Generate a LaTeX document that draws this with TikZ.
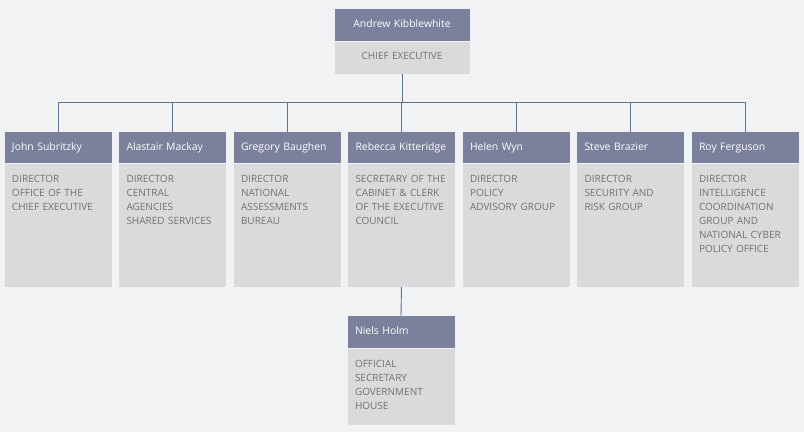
\documentclass[tikz,border=0pt]{standalone}
\usepackage{fontspec}
\setmainfont{Open Sans}
\usepackage{tikz}
\usetikzlibrary{positioning}
\definecolor{pagegrey}{HTML}{F1F2F4}
\definecolor{headblue}{HTML}{7B809C}
\definecolor{bodygrey}{HTML}{D9DADC}
\definecolor{linkblue}{HTML}{5F7290}
\definecolor{textgrey}{HTML}{707275}

\begin{document}
\begin{tikzpicture}[x=1pt,y=-1pt,
		head/.style={fill=headblue, text=white, anchor=north, minimum width=106pt, minimum height=31pt,
			text width=92pt, inner xsep=7.5pt, inner ysep=0pt, text height=8pt, text depth=2.5pt,
			align=left, font=\fontsize{10.4}{14}\selectfont},
		body/.style={fill=bodygrey, text=textgrey, text width=92pt, inner xsep=7.5pt, inner ysep=10pt,
			text height=9pt, text depth=94pt, align=left, font=\fontsize{10}{14}\selectfont},
		link/.style={linkblue, line width=0.9pt}]
		\fill[pagegrey] (0,0) rectangle (804,432);
		\useasboundingbox (0,0) rectangle (804,432);
		\node[head, minimum width=134pt, minimum height=32pt, text width=120pt, align=center] (kibblewhite) at (402,9) {Andrew Kibblewhite};
		\node[body, below=0pt of kibblewhite, text width=120pt, text height=7pt, text depth=2.5pt, inner ysep=11.25pt, align=center] (kibblewhiteb) {CHIEF EXECUTIVE};
		\node[head] (subritzky) at (58,132) {John Subritzky};
		\node[body, below=0pt of subritzky] (subritzkyb) {DIRECTOR\\OFFICE OF THE\\CHIEF EXECUTIVE};
		\node[head] (mackay) at (172.5,132) {Alastair Mackay};
		\node[body, below=0pt of mackay] (mackayb) {DIRECTOR\\CENTRAL\\AGENCIES\\SHARED SERVICES};
		\node[head] (baughen) at (287,132) {Gregory Baughen};
		\node[body, below=0pt of baughen] (baughenb) {DIRECTOR\\NATIONAL\\ASSESSMENTS\\BUREAU};
		\node[head] (kitteridge) at (401.5,132) {Rebecca Kitteridge};
		\node[body, below=0pt of kitteridge] (kitteridgeb) {SECRETARY OF THE\\CABINET \& CLERK\\OF THE EXECUTIVE\\COUNCIL};
		\node[head] (wyn) at (516,132) {Helen Wyn};
		\node[body, below=0pt of wyn] (wynb) {DIRECTOR\\POLICY\\ADVISORY GROUP};
		\node[head] (brazier) at (630.5,132) {Steve Brazier};
		\node[body, below=0pt of brazier] (brazierb) {DIRECTOR\\SECURITY AND\\RISK GROUP};
		\node[head] (ferguson) at (745,132) {Roy Ferguson};
		\node[body, below=0pt of ferguson] (fergusonb) {DIRECTOR\\INTELLIGENCE\\COORDINATION\\GROUP AND\\NATIONAL CYBER\\POLICY OFFICE};
		\node[head, minimum height=32pt] (holm) at (401,316) {Niels Holm};
		\node[body, below=0pt of holm, text depth=47pt] (holmb) {OFFICIAL\\SECRETARY\\GOVERNMENT\\HOUSE};
		\draw[link] (kibblewhiteb.south) -- ++(0,29) coordinate (bus);
		\foreach \who in {subritzky,mackay,baughen,kitteridge,wyn,brazier,ferguson}
			\draw[link] (\who.north) |- (bus);
		\draw[link] (kitteridgeb.south) -- (holm.north);
\end{tikzpicture}
\end{document}
